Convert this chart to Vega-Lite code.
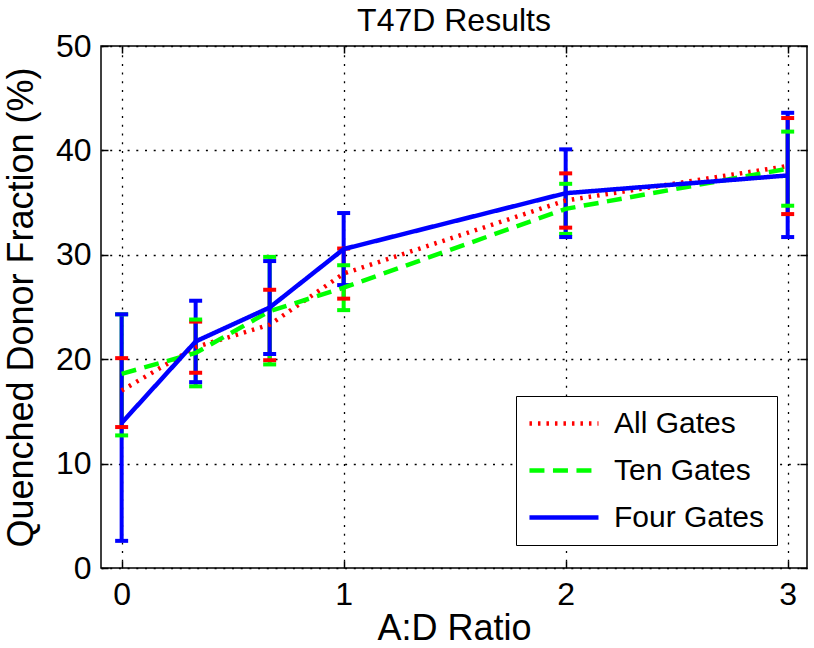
{
  "$schema": "https://vega.github.io/schema/vega-lite/v6.json",
  "width": 706,
  "height": 522,
  "autosize": "none",
  "padding": {"left": 101, "top": 46, "right": 7, "bottom": 80},
  "background": "white",
  "title": {"text": "T47D Results", "fontSize": 32, "font": "Liberation Sans", "fontWeight": "normal", "color": "black", "offset": -8},
  "config": {
    "view": {"stroke": "black", "strokeWidth": 1.5},
    "axis": {"domain": false, "labelFont": "Liberation Sans", "labelFontSize": 32, "labelColor": "black", "titleFont": "Liberation Sans", "titleFontSize": 36, "titleFontWeight": "normal", "titleColor": "black", "tickColor": "black", "tickWidth": 1.5, "tickSize": -7, "gridColor": "black", "gridDash": [2, 6.7], "gridWidth": 1.3, "gridOpacity": 1},
    "legend": {"symbolType": "M-1.08,0H4.23", "symbolSize": 676, "symbolStrokeWidth": 4.5, "symbolOpacity": 1, "labelFont": "Liberation Sans", "labelFontSize": 30, "labelColor": "black", "strokeColor": "black", "fillColor": "white", "padding": 12, "rowPadding": 16, "labelOffset": 55}
  },
  "data": {"values": [
    {"x": 0, "series": "All Gates", "mean": 17.0, "lo": 13.5, "hi": 20.1},
    {"x": 0.3333, "series": "All Gates", "mean": 21.15, "lo": 18.7, "hi": 23.6},
    {"x": 0.6667, "series": "All Gates", "mean": 23.3, "lo": 19.9, "hi": 26.65},
    {"x": 1, "series": "All Gates", "mean": 28.2, "lo": 25.8, "hi": 30.6},
    {"x": 2, "series": "All Gates", "mean": 35.2, "lo": 32.6, "hi": 37.8},
    {"x": 3, "series": "All Gates", "mean": 38.5, "lo": 33.9, "hi": 43.1},
    {"x": 0, "series": "Ten Gates", "mean": 18.6, "lo": 12.7, "hi": 24.3},
    {"x": 0.3333, "series": "Ten Gates", "mean": 20.6, "lo": 17.4, "hi": 23.8},
    {"x": 0.6667, "series": "Ten Gates", "mean": 24.6, "lo": 19.5, "hi": 29.8},
    {"x": 1, "series": "Ten Gates", "mean": 26.85, "lo": 24.7, "hi": 29.0},
    {"x": 2, "series": "Ten Gates", "mean": 34.4, "lo": 32.0, "hi": 36.8},
    {"x": 3, "series": "Ten Gates", "mean": 38.25, "lo": 34.7, "hi": 41.8},
    {"x": 0, "series": "Four Gates", "mean": 13.9, "lo": 2.6, "hi": 24.3},
    {"x": 0.3333, "series": "Four Gates", "mean": 21.7, "lo": 17.8, "hi": 25.6},
    {"x": 0.6667, "series": "Four Gates", "mean": 24.95, "lo": 20.5, "hi": 29.4},
    {"x": 1, "series": "Four Gates", "mean": 30.55, "lo": 27.1, "hi": 34.0},
    {"x": 2, "series": "Four Gates", "mean": 35.9, "lo": 31.7, "hi": 40.1},
    {"x": 3, "series": "Four Gates", "mean": 37.6, "lo": 31.7, "hi": 43.6}
  ]},
  "resolve": {"axis": {"x": "independent", "y": "independent"}},
  "layer": [
    {
      "mark": {"type": "rule", "strokeWidth": 4, "opacity": 1},
      "encoding": {
        "x": {"field": "x", "type": "quantitative", "scale": {"domain": [-0.093, 3.087], "nice": false, "zero": false}, "axis": {"orient": "top", "labels": false, "grid": false, "title": null, "values": [0, 1, 2, 3]}},
        "y": {"field": "lo", "type": "quantitative", "scale": {"domain": [0, 50], "nice": false}, "axis": {"orient": "right", "labels": false, "grid": false, "title": null, "values": [0, 10, 20, 30, 40, 50]}},
        "y2": {"field": "hi"},
        "color": {"field": "series", "type": "nominal", "scale": {"domain": ["All Gates", "Ten Gates", "Four Gates"], "range": ["#ff0000", "#00ff00", "#0000ff"]}}
      }
    },
    {
      "mark": {"type": "tick", "orient": "horizontal", "size": 13, "thickness": 4, "opacity": 1},
      "encoding": {
        "x": {"field": "x", "type": "quantitative", "axis": null},
        "y": {"field": "lo", "type": "quantitative", "axis": null},
        "color": {"field": "series", "type": "nominal"}
      }
    },
    {
      "mark": {"type": "tick", "orient": "horizontal", "size": 13, "thickness": 4, "opacity": 1},
      "encoding": {
        "x": {"field": "x", "type": "quantitative", "axis": null},
        "y": {"field": "hi", "type": "quantitative", "axis": null},
        "color": {"field": "series", "type": "nominal"}
      }
    },
    {
      "mark": {"type": "line", "strokeWidth": 4.5, "opacity": 1},
      "encoding": {
        "x": {"field": "x", "type": "quantitative", "axis": {"orient": "bottom", "grid": true, "values": [0, 1, 2, 3], "format": "d", "title": "A:D Ratio", "labelPadding": 18, "titlePadding": 1}},
        "y": {"field": "mean", "type": "quantitative", "axis": {"orient": "left", "grid": true, "values": [0, 10, 20, 30, 40, 50], "format": "d", "title": "Quenched Donor Fraction (%)", "labelPadding": 17, "titlePadding": 15}},
        "color": {"field": "series", "type": "nominal", "legend": {"orient": "none", "legendX": 415, "legendY": 350, "title": null}},
        "strokeDash": {"field": "series", "type": "nominal", "scale": {"domain": ["All Gates", "Ten Gates", "Four Gates"], "range": [[2.5, 6], [15, 8.5], [1, 0]]}, "legend": {"orient": "none", "legendX": 415, "legendY": 350, "title": null}},
        "order": {"field": "x", "type": "quantitative"}
      }
    }
  ]
}
